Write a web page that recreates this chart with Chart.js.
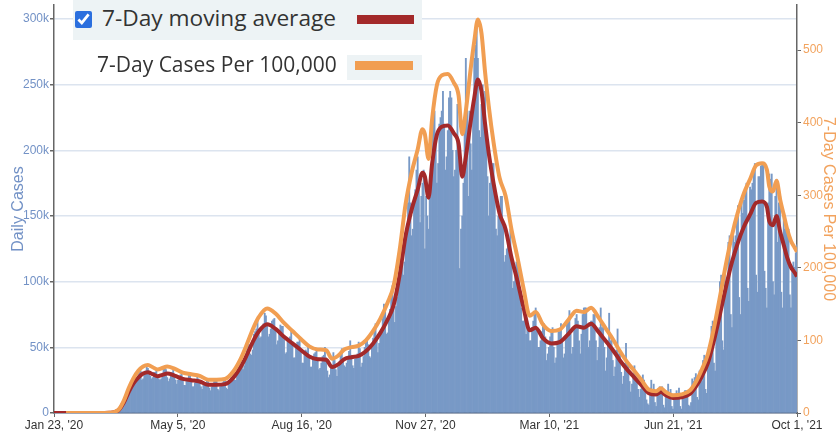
<!DOCTYPE html>
<html>
<head>
<meta charset="utf-8">
<script src="https://cdn.jsdelivr.net/npm/chart.js@4.4.1/dist/chart.umd.min.js"></script>
<style>
html, body { margin: 0; padding: 0; background: #fff; }
#wrap { position: relative; width: 838px; height: 432px; }
#chart { position: absolute; left: 0; top: 0; }
.legbox { position: absolute; background: #edf3f5; }
.legtxt { position: absolute; font-family: 'Open Sans', sans-serif; color: #333; white-space: nowrap; line-height: 1; }
.swatch { position: absolute; height: 9px; }
#chk { position: absolute; left: 75px; top: 11px; width: 17px; height: 17px; margin: 0; accent-color: #2b6fde; }
</style>
</head>
<body>
<div id="wrap">
  <canvas id="chart" width="838" height="432"></canvas>
  <div class="legbox" style="left:73px;top:0;width:349px;height:40px"></div>
  <input type="checkbox" id="chk" checked>
  <div class="legtxt" style="left:102px;top:7px;font-size:22.7px">7-Day moving average</div>
  <div class="swatch" style="left:357px;top:15px;width:57px;background:#a3292a"></div>
  <div class="legbox" style="left:347px;top:55px;width:75px;height:25px"></div>
  <div class="legtxt" style="left:97px;top:54px;font-size:21px">7-Day Cases Per 100,000</div>
  <div class="swatch" style="left:355px;top:61px;width:58px;background:#f19e52"></div>
</div>
<script>
// x axis: day 0 = Jan 23 '20, day 617 = Oct 1 '21
var xTickLabels = ["Jan 23, '20", "May 5, '20", "Aug 16, '20", "Nov 27, '20", "Mar 10, '21", "Jun 21, '21", "Oct 1, '21"];
var yTicks = [0, 50, 100, 150, 200, 250, 300];
var y2Ticks = [0, 100, 200, 300, 400, 500];

// daily cases (thousands), one row per week starting on a Thursday
var dailyCases = [
  0,0,0,0,0,0,0,
  0,0,0,0,0,0,0,
  0,0,0,0,0,0,0,
  0,0,0,0,0,0,0,
  0,0,0,0,0,0,0,
  0,0,0,0,0.01,0.01,0.02,
  0.05,0.07,0.1,0.12,0.15,0.25,0.3,
  0.4,0.6,0.9,1.2,1.8,2.6,3.6,
  5.5,7,8.5,9.5,11,13,15.5,
  18,20,21,21,22,25,27,
  30,33,32,25,26,30,32,
  35,34,31,28,26,27,31,
  31,33,28,26,25,26,29,
  34,36,33,27,24,26,29,
  31,33,29,25,22,25,28,
  29,30,27,21,21,24,26,
  29,29,26,20,20,23,25,
  28,26,23,20,18,21,23,
  23,25,24,19,17,20,21,
  24,25,24,18,17,20,22,
  23,25,25,19,18,23,24,
  27,31,31,25,25,31,35,
  38,42,40,33,36,44,48,
  55,52,45,44,48,60,62,
  64,72,64,57,58,65,68,
  76,74,66,58,60,64,70,
  71,72,64,52,55,62,67,
  66,66,56,45,46,56,57,
  58,62,54,42,42,50,54,
  54,56,48,38,38,45,48,
  47,50,44,35,35,41,45,
  46,48,42,33,34,38,43,
  44,50,42,32,27,29,34,
  35,46,40,33,28,35,39,
  44,49,41,36,35,38,40,
  47,55,44,36,34,41,42,
  45,54,49,35,38,43,50,
  56,57,52,43,42,50,57,
  64,68,56,46,53,60,63,
  72,83,77,60,61,73,79,
  88,97,86,69,81,88,97,
  120,130,126,105,115,134,144,
  160,195,160,135,140,160,170,
  185,195,175,145,165,175,185,
  125,165,150,140,170,185,215,
  225,230,210,175,190,220,225,
  230,245,220,185,195,215,240,
  245,240,200,180,185,200,235,
  195,110,140,150,175,215,270,
  235,165,230,205,185,230,270,
  280,295,270,215,210,235,250,
  240,245,205,180,150,175,190,
  190,190,170,140,135,150,155,
  165,165,145,115,120,125,130,
  130,140,115,95,100,105,115,
  115,110,95,80,70,70,75,
  60,70,65,55,55,65,70,
  75,80,65,50,50,55,62,
  66,68,58,40,45,50,58,
  62,65,50,38,42,52,62,
  62,68,55,42,45,58,70,
  70,78,60,45,50,65,72,
  75,70,55,45,60,75,80,
  80,80,65,50,55,70,70,
  75,75,55,40,50,65,80,
  65,65,50,32,42,55,76,
  55,57,40,28,35,48,64,
  45,47,31,22,28,38,53,
  37,38,24,16,22,30,36,
  30,30,18,12,18,24,29,
  25,20,10,7,6,19,25,
  18,22,8,5,14,18,20,
  18,20,6,4,12,16,22,
  15,18,5,3,10,13,17,
  15,19,5,3,11,14,17,
  17,15,6,5,8,26,24,
  27,30,12,10,32,33,24,
  40,44,18,15,48,44,43,
  66,70,38,32,72,68,67,
  100,105,55,48,105,100,100,
  130,135,75,65,135,130,135,
  150,158,88,75,160,152,162,
  168,175,95,85,172,170,175,
  185,190,105,92,180,180,188,
  190,190,108,95,80,160,182,
  178,182,100,90,165,178,130,
  160,165,92,80,150,140,143,
  135,140,90,80,112,115,111,
  122,128
];

// days (since Jan 23 '20) where the two smoothed lines were read
var lineDays = [
  0,7,10,14,21,28,35,
  42,46,50,54,58,62,66,70,74,78,
  82,86,90,94,100,107,114,121,128,135,
  142,149,155,160,165,170,177,184,191,198,
  205,212,219,226,231,236,241,247,253,259,
  265,271,277,282,287,292,297,302,306,308,
  311,314,318,322,327,332,336,339,342,346,
  349,352,355,358,361,365,370,375,380,385,
  390,395,400,406,413,420,427,434,440,446,
  452,458,464,470,476,482,488,494,500,504,
  508,514,521,528,533,538,543,548,553,558,
  563,568,573,578,583,588,592,594,597,600,
  603,606,609,612,615,617
];

// 7-day moving average (thousands)
var movingAvg = [
  0,0,0,0,0,0,0,
  0.05,0.2,0.6,2.5,8,16,22.5,27,30,31,
  29.5,28,29,30,28.5,26,25,24,21.5,21.5,
  22,27,35,44,54,62,67.5,64,58,53,
  48,43,41,40.5,35,37,41,42.5,43.5,47,
  53,61,71,82,105,135,155,170,183,180,
  164,190,212,218,219,213,205,180,195,222,
  240,254,245,220,198,175,152,140,118,100,
  80,63,65,57,53,54,60,66,65,68,
  62,55,48,40,33,27,21,15,14,16,
  13.5,11.5,12,14.5,20,28,38,55,75,96,
  115,130,142,151,160,161,157,146,143,150,
  138,128,118,111,107,104
];

// 7-day cases per 100,000
var per100k = [
  null,null,0,0,0,0,0,
  0.1,0.4,1.3,5.3,17,34,48,58,64,66,
  63,60,62,64,61,55.5,53.4,51.2,45.9,45.9,
  46.9,57.6,74.7,93.9,115,132,144,137,124,113,
  102,91.8,87.5,86.4,74.7,79,87.5,90.7,92.8,100,
  113,130,152,175,224,288,331,363,391,384,
  350,405,452,465,467,455,437,384,416,474,
  512,542,523,469,423,373,324,299,252,213,
  171,134,139,122,113,115,128,141,139,145,
  132,117,102,85,70,58,45,32,30,34,
  29,24.5,25.6,30.9,42.7,60,81,117,160,205,
  245,277,303,322,341,344,335,312,305,320,
  294,273,252,237,228,222
];

var narrow = "'Liberation Sans Narrow', 'Arial Narrow', 'Liberation Sans', Arial, sans-serif";
var regular = "'Liberation Sans', Arial, sans-serif";
var lastDay = dailyCases.length - 1;

var ctx = document.getElementById('chart').getContext('2d');
new Chart(ctx, {
  type: 'bar',
  data: {
    datasets: [
      {
        type: 'line',
        label: '7-Day Cases Per 100,000',
        data: lineDays.map(function (d, i) { return { x: d, y: per100k[i] }; }),
        yAxisID: 'y2',
        borderColor: '#f19e52',
        borderWidth: 4,
        pointRadius: 0,
        cubicInterpolationMode: 'monotone'
      },
      {
        type: 'line',
        label: '7-Day moving average',
        data: lineDays.map(function (d, i) { return { x: d, y: movingAvg[i] }; }),
        yAxisID: 'y',
        borderColor: '#a3292a',
        borderWidth: 4,
        pointRadius: 0,
        cubicInterpolationMode: 'monotone'
      },
      {
        type: 'bar',
        label: 'Daily Cases',
        data: dailyCases.map(function (v, i) { return { x: i, y: v }; }),
        yAxisID: 'y',
        backgroundColor: '#7899c6',
        barPercentage: 1,
        categoryPercentage: 1
      }
    ]
  },
  options: {
    responsive: false,
    animation: false,
    layout: { padding: { top: 5, left: 0, right: 0, bottom: 0 } },
    plugins: { legend: { display: false }, tooltip: { enabled: false } },
    scales: {
      x: {
        type: 'linear',
        min: 0,
        max: lastDay,
        offset: false,
        afterBuildTicks: function (s) {
          s.ticks = xTickLabels.map(function (t, i) { return { value: i * lastDay / 6 }; });
        },
        afterFit: function (s) { s.height = 19; s.paddingLeft = 0; s.paddingRight = 0; },
        ticks: {
          autoSkip: false, maxRotation: 0, padding: 1, color: '#333',
          font: { family: narrow, size: 12 },
          callback: function (v, i) { return xTickLabels[i]; }
        },
        grid: { drawOnChartArea: false, offset: false, tickLength: 4, tickColor: '#666' },
        border: { color: '#50607a', width: 1.5 }
      },
      y: {
        position: 'left',
        min: 0,
        max: 310.7,
        afterBuildTicks: function (s) { s.ticks = yTicks.map(function (v) { return { value: v }; }); },
        afterFit: function (s) { s.width = 54; s.paddingTop = 0; s.paddingBottom = 0; },
        ticks: {
          color: '#7392c6', padding: 1,
          font: { family: narrow, size: 12 },
          callback: function (v) { return v === 0 ? '0' : v + 'k'; }
        },
        grid: { color: '#dce4ef', lineWidth: 1.5, tickLength: 4, tickColor: '#666' },
        border: { color: '#666', width: 1.5 },
        title: {
          display: true, text: 'Daily Cases', color: '#7392c6',
          font: { family: regular, size: 16 }, padding: { top: 9, bottom: 0 }
        }
      },
      y2: {
        position: 'right',
        min: 0,
        max: 562,
        afterBuildTicks: function (s) { s.ticks = y2Ticks.map(function (v) { return { value: v }; }); },
        afterFit: function (s) { s.width = 41; s.paddingTop = 0; s.paddingBottom = 0; },
        ticks: { color: '#f2a35e', padding: 2, font: { family: narrow, size: 12 } },
        grid: { drawOnChartArea: false, tickLength: 4, tickColor: '#666' },
        border: { color: '#666', width: 1.5 },
        title: {
          display: true, text: '7-Day Cases Per 100,000', color: '#f2a35e',
          font: { family: regular, size: 16 }, padding: { top: 0, bottom: 0 }
        }
      }
    }
  }
});
</script>
</body>
</html>
